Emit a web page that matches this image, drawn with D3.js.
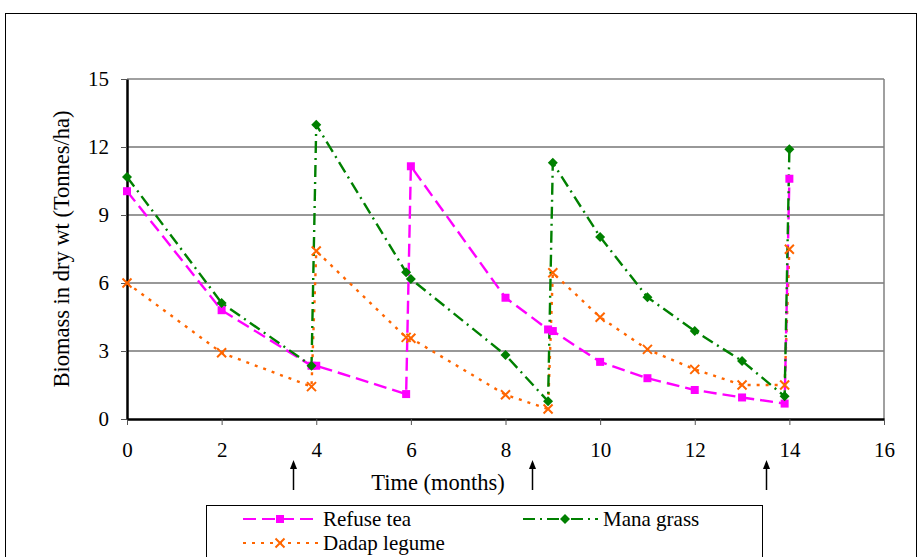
<!DOCTYPE html>
<html><head><meta charset="utf-8">
<script src="https://cdn.jsdelivr.net/npm/d3@7/dist/d3.min.js"></script>
<style>body{margin:0;background:#fff}svg{display:block}</style>
</head><body><svg id="c" width="918" height="557"></svg>
<script>
const xTicks = [0, 2, 4, 6, 8, 10, 12, 14, 16];
const yTicks = [0, 3, 6, 9, 12, 15];
const refuseMonths = [0, 2, 3.9, 4.0, 5.9, 6.0, 8, 8.9, 9.0, 10, 11, 12, 13, 13.9, 14];
const refuseValues = [10.05, 4.8, 2.35, 2.35, 1.1, 11.15, 5.35, 3.95, 3.88, 2.52, 1.8, 1.28, 0.95, 0.68, 10.6];
const manaMonths = [0, 2, 3.9, 4.0, 5.9, 6.0, 8, 8.9, 9.0, 10, 11, 12, 13, 13.9, 14];
const manaValues = [10.68, 5.12, 2.35, 12.98, 6.47, 6.18, 2.82, 0.78, 11.3, 8.03, 5.37, 3.88, 2.56, 1.0, 11.9];
const dadapMonths = [0, 2, 3.9, 4.0, 5.9, 6.0, 8, 8.9, 9.0, 10, 11, 12, 13, 13.9, 14];
const dadapValues = [6.0, 2.92, 1.43, 7.41, 3.6, 3.56, 1.07, 0.44, 6.45, 4.49, 3.07, 2.19, 1.5, 1.5, 7.49];
const arrowMonths = [3.5, 8.57, 13.5];
const seriesNames = ["Refuse tea", "Mana grass", "Dadap legume"];

const FONT = "'Liberation Serif', 'Times New Roman', serif";
const svg = d3.select("#c");
const x = d3.scaleLinear().domain([0, 16]).range([127, 884]);
const y = d3.scaleLinear().domain([0, 15]).range([419, 79]);

// outer border
svg.append("rect").attr("x", 5.5).attr("y", 13.5).attr("width", 911).attr("height", 560)
  .attr("fill", "none").attr("stroke", "#000").attr("stroke-width", 1);

// gridlines
svg.append("g").selectAll("line").data(yTicks.filter(d => d > 0 && d < 15)).join("line")
  .attr("x1", x(0)).attr("x2", x(16)).attr("y1", d => y(d)).attr("y2", d => y(d))
  .attr("stroke", "#333").attr("stroke-width", 1.2);
// top and right frame
svg.append("line").attr("x1", x(0)).attr("x2", x(16)).attr("y1", y(15)).attr("y2", y(15))
  .attr("stroke", "#808080").attr("stroke-width", 1.5);
svg.append("line").attr("x1", x(16)).attr("x2", x(16)).attr("y1", y(15)).attr("y2", y(0))
  .attr("stroke", "#808080").attr("stroke-width", 1.5);

// axes
const xAxis = svg.append("g").attr("transform", `translate(0,${y(0)})`)
  .call(d3.axisBottom(x).tickValues(xTicks).tickSize(6).tickPadding(17).tickSizeOuter(0));
const yAxis = svg.append("g").attr("transform", `translate(${x(0)},0)`)
  .call(d3.axisLeft(y).tickValues(yTicks).tickSize(6).tickPadding(12).tickSizeOuter(0));
[xAxis, yAxis].forEach(g => {
  g.select(".domain").attr("stroke", "#000").attr("stroke-width", 2.5);
  g.selectAll(".tick line").attr("stroke", "#555").attr("stroke-width", 1);
  g.selectAll(".tick text").attr("font-family", FONT).attr("font-size", 21).attr("fill", "#000");
});

// axis titles
svg.append("text").attr("x", 438).attr("y", 490).attr("text-anchor", "middle")
  .attr("font-family", FONT).attr("font-size", 22.5).text("Time (months)");
svg.append("text").attr("transform", "translate(69,249) rotate(-90)").attr("text-anchor", "middle")
  .attr("font-family", FONT).attr("font-size", 22.5).text("Biomass in dry wt (Tonnes/ha)");

// arrows
const ag = svg.append("g");
arrowMonths.forEach(m => {
  const ax = Math.round(x(m)) + 0.5;
  ag.append("line").attr("x1", ax).attr("x2", ax).attr("y1", 466).attr("y2", 490)
    .attr("stroke", "#000").attr("stroke-width", 1.5);
  ag.append("path").attr("d", `M${ax},460 L${ax - 3.5},469 L${ax + 3.5},469 Z`).attr("fill", "#000");
});

const series = [
  { name: seriesNames[0], xs: refuseMonths, ys: refuseValues, color: "#FF00FF", dash: "13,6", marker: "square" },
  { name: seriesNames[1], xs: manaMonths, ys: manaValues, color: "#008000", dash: "12,5,2,5", marker: "diamond" },
  { name: seriesNames[2], xs: dadapMonths, ys: dadapValues, color: "#FF6600", dash: "3,6", marker: "x" }
];

function drawMarker(g, type, cx, cy, color) {
  if (type === "square") {
    g.append("rect").attr("x", cx - 4).attr("y", cy - 4).attr("width", 8).attr("height", 8).attr("fill", color);
  } else if (type === "diamond") {
    g.append("path").attr("d", `M${cx},${cy - 5} L${cx + 5},${cy} L${cx},${cy + 5} L${cx - 5},${cy} Z`).attr("fill", color);
  } else {
    g.append("path").attr("d", `M${cx - 4.5},${cy - 4.5} L${cx + 4.5},${cy + 4.5} M${cx - 4.5},${cy + 4.5} L${cx + 4.5},${cy - 4.5}`)
      .attr("stroke", color).attr("stroke-width", 2).attr("fill", "none");
  }
}

const line = d3.line().x(d => x(d[0])).y(d => y(d[1]));
[series[2], series[0], series[1]].forEach(s => {
  const pts = s.xs.map((m, i) => [m, s.ys[i]]);
  svg.append("path").datum(pts).attr("d", line).attr("fill", "none")
    .attr("stroke", s.color).attr("stroke-width", 2.4).attr("stroke-dasharray", s.dash);
});
[series[2], series[0], series[1]].forEach(s => {
  const g = svg.append("g");
  s.xs.forEach((m, i) => drawMarker(g, s.marker, x(m), y(s.ys[i]), s.color));
});

// legend
svg.append("rect").attr("x", 206.5).attr("y", 505.5).attr("width", 556).attr("height", 70)
  .attr("fill", "#fff").attr("stroke", "#000").attr("stroke-width", 1);
const legPos = [[243, 519], [523, 519], [243, 543]];
series.forEach((s, i) => {
  const [lx, ly] = legPos[i];
  const g = svg.append("g");
  g.append("line").attr("x1", lx).attr("x2", lx + 75).attr("y1", ly).attr("y2", ly)
    .attr("stroke", s.color).attr("stroke-width", 2.2).attr("stroke-dasharray", s.dash);
  drawMarker(g, s.marker, lx + 37 + (i === 1 ? 5 : 0), ly, s.color);
  g.append("text").attr("x", lx + 80).attr("y", ly + 7).attr("font-family", FONT).attr("font-size", 21)
    .attr("fill", "#000").text(s.name);
});
</script></body></html>
